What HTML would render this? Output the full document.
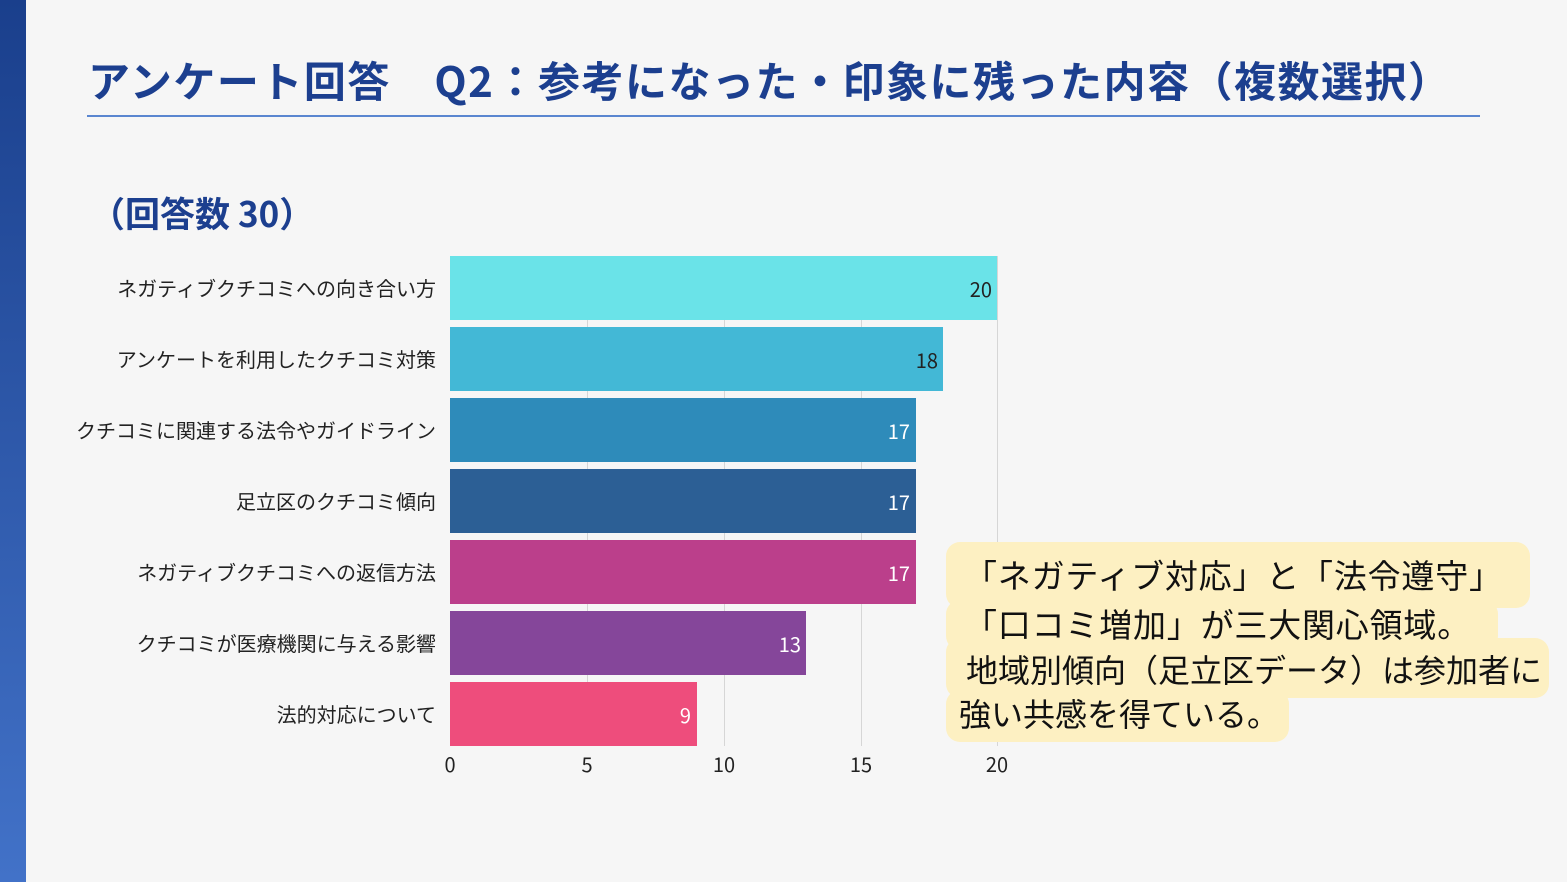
<!DOCTYPE html>
<html><head><meta charset="utf-8"><style>
body{margin:0;width:1567px;height:882px;background:#f6f6f6;position:relative;overflow:hidden;font-family:"Noto Sans CJK JP","Liberation Sans",sans-serif}
.side{position:absolute;left:0;top:0;width:26px;height:882px;background:linear-gradient(#1a3f8c,#4272c8)}
.title{position:absolute;left:88px;top:50px;font-size:42px;line-height:60px;font-weight:bold;color:#1c3f8f;white-space:nowrap;letter-spacing:1.5px}
.rule{position:absolute;left:87px;top:115px;width:1393px;height:2px;background:#5a86d0}
.sub{position:absolute;left:90px;top:188px;font-size:35px;line-height:50px;font-weight:bold;color:#1c3f8f}
.lab{position:absolute;right:1131px;font-size:20px;color:#222;white-space:nowrap;line-height:64px}
.bar{position:absolute;left:450px;height:64px}
.val{position:absolute;font-size:20px;line-height:66px;text-align:right}
.grid{position:absolute;top:256px;width:1px;height:490px;background:#d6d6d6}
.tick{position:absolute;top:749px;font-size:20px;color:#222;width:40px;text-align:center}
.hl{position:absolute;background:#fdf0c2;border-radius:14px}
.ct{position:absolute;font-size:32px;line-height:44px;color:#111;white-space:nowrap}
</style></head><body>
<div class="side"></div>
<div class="title">アンケート回答　Q2：参考になった・印象に残った内容（複数選択）</div>
<div class="rule"></div>
<div class="sub">（回答数 30）</div>

<div class="grid" style="left:587px"></div>
<div class="grid" style="left:724px"></div>
<div class="grid" style="left:861px"></div>
<div class="grid" style="left:997px"></div>

<div class="lab" style="top:256px">ネガティブクチコミへの向き合い方</div>
<div class="lab" style="top:327px">アンケートを利用したクチコミ対策</div>
<div class="lab" style="top:398px">クチコミに関連する法令やガイドライン</div>
<div class="lab" style="top:469px">足立区のクチコミ傾向</div>
<div class="lab" style="top:540px">ネガティブクチコミへの返信方法</div>
<div class="lab" style="top:611px">クチコミが医療機関に与える影響</div>
<div class="lab" style="top:682px">法的対応について</div>

<div class="bar" style="top:256px;width:547px;background:#6ae3e8"></div>
<div class="bar" style="top:327px;width:493px;background:#43b8d6"></div>
<div class="bar" style="top:398px;width:466px;background:#2e8bba"></div>
<div class="bar" style="top:469px;width:466px;background:#2c5f95"></div>
<div class="bar" style="top:540px;width:466px;background:#bb3f8b"></div>
<div class="bar" style="top:611px;width:356px;background:#85469a"></div>
<div class="bar" style="top:682px;width:247px;background:#ee4d7c"></div>

<div class="val" style="top:256px;left:900px;width:92px;color:#222">20</div>
<div class="val" style="top:327px;left:840px;width:98px;color:#222">18</div>
<div class="val" style="top:398px;left:810px;width:100px;color:#fff">17</div>
<div class="val" style="top:469px;left:810px;width:100px;color:#fff">17</div>
<div class="val" style="top:540px;left:810px;width:100px;color:#fff">17</div>
<div class="val" style="top:611px;left:700px;width:101px;color:#fff">13</div>
<div class="val" style="top:682px;left:600px;width:91px;color:#fff">9</div>

<div class="tick" style="left:430px">0</div>
<div class="tick" style="left:567px">5</div>
<div class="tick" style="left:704px">10</div>
<div class="tick" style="left:841px">15</div>
<div class="tick" style="left:977px">20</div>

<div class="hl" style="left:946px;top:542px;width:584px;height:66px"></div>
<div class="hl" style="left:946px;top:600px;width:552px;height:50px"></div>
<div class="hl" style="left:946px;top:638px;width:603px;height:60px"></div>
<div class="hl" style="left:946px;top:690px;width:343px;height:52px"></div>
<div class="ct" style="left:964px;top:552px;font-size:33px;letter-spacing:0.8px">「ネガティブ対応」と「法令遵守」</div>
<div class="ct" style="left:964px;top:601px;font-size:33px;letter-spacing:0.8px">「口コミ増加」が三大関心領域。</div>
<div class="ct" style="left:966px;top:647px">地域別傾向（足立区データ）は参加者に</div>
<div class="ct" style="left:959px;top:691px">強い共感を得ている。</div>
</body></html>
